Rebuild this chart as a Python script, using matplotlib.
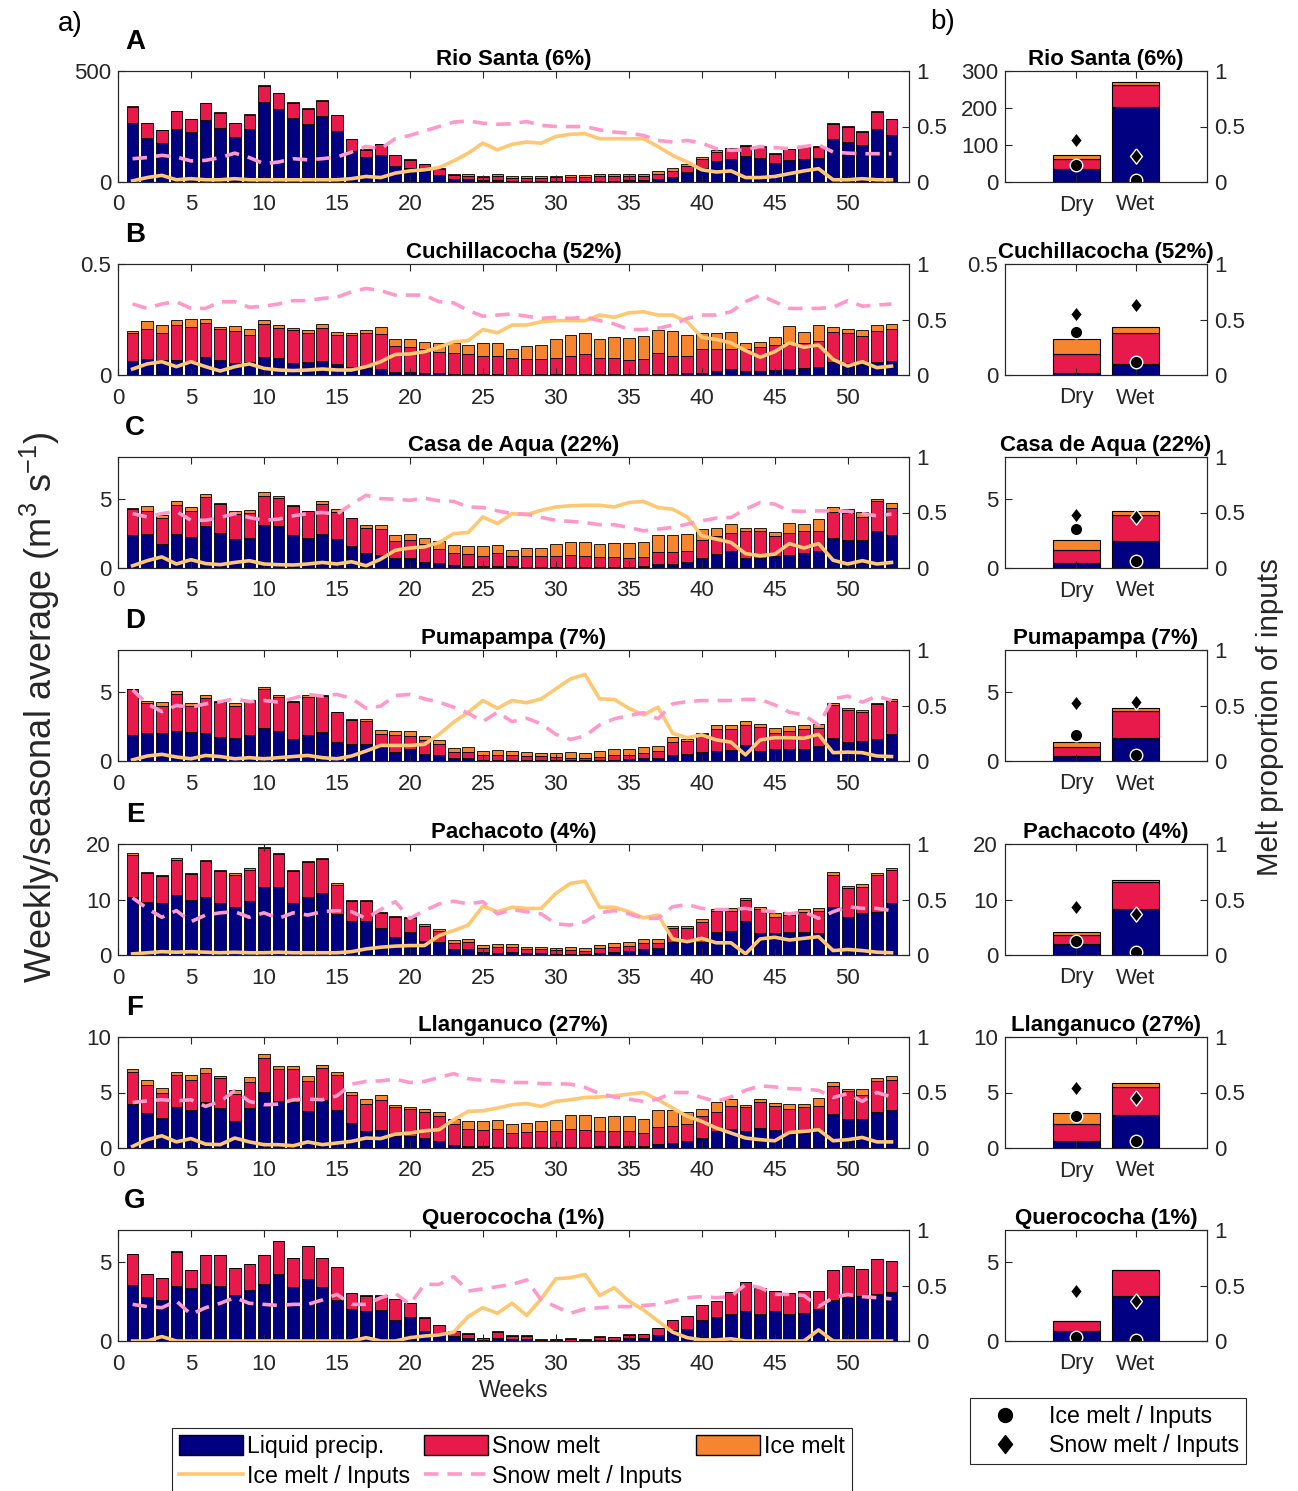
import numpy as np
import matplotlib
matplotlib.use("Agg")
import matplotlib.pyplot as plt
from matplotlib.patches import Patch
from matplotlib.lines import Line2D
from matplotlib.ticker import FuncFormatter

plt.rcParams['font.family'] = ['Liberation Sans', 'DejaVu Sans']
plt.rcParams['mathtext.fontset'] = 'custom'
plt.rcParams['mathtext.rm'] = 'Liberation Sans'
plt.rcParams['mathtext.it'] = 'Liberation Sans:italic'

# ==========================================================
# DATA : weekly inputs (m3/s) and melt fractions
# ==========================================================

weeks = np.arange(1, 54)

names = ["Rio Santa (6%)", "Cuchillacocha (52%)", "Casa de Aqua (22%)",
         "Pumapampa (7%)", "Pachacoto (4%)", "Llanganuco (27%)",
         "Querococha (1%)"]
letters = ["A", "B", "C", "D", "E", "F", "G"]

# Rio Santa
rs_liq = [265, 200, 176, 240, 227, 281, 243, 203, 239, 360, 330, 288, 263, 299, 231, 138, 114, 122, 70, 63,
          51, 30, 15, 12, 8, 10, 6, 5, 5, 5, 5, 5, 6, 6, 7, 8, 12, 24, 45, 65,
          95, 105, 118, 110, 85, 98, 102, 110, 195, 180, 165, 238, 212]
rs_snow = [75, 65, 58, 78, 55, 73, 70, 62, 64, 73, 70, 70, 68, 67, 69, 54, 31, 47, 50, 38,
           30, 30, 18, 16, 14, 18, 14, 14, 15, 16, 18, 17, 19, 20, 21, 21, 26, 27, 27, 38,
           42, 46, 45, 47, 43, 50, 54, 49, 68, 68, 62, 78, 70]
rs_ice = [3, 3, 2, 2, 2, 2, 2, 2, 2, 2, 2, 2, 2, 2, 2, 2, 2, 2, 2, 2,
          2, 3, 5, 6, 6, 7, 6, 6, 6, 7, 8, 9, 9, 9, 9, 9, 10, 10, 9, 8,
          5, 4, 4, 3, 2, 2, 2, 2, 2, 2, 2, 2, 2]
rs_icefrac = [0.01, 0.04, 0.06, 0.02, 0.03, 0.02, 0.02, 0.03, 0.02, 0.02, 0.02, 0.02, 0.02, 0.02, 0.02, 0.03, 0.05, 0.04, 0.08, 0.10,
              0.11, 0.13, 0.19, 0.26, 0.35, 0.29, 0.34, 0.36, 0.35, 0.41, 0.43, 0.435, 0.39, 0.39, 0.39, 0.39, 0.32, 0.24, 0.18, 0.11,
              0.09, 0.10, 0.04, 0.04, 0.05, 0.075, 0.10, 0.12, 0.02, 0.02, 0.03, 0.02, 0.02]
rs_snowfrac = [0.21, 0.22, 0.24, 0.225, 0.19, 0.195, 0.22, 0.26, 0.22, 0.165, 0.18, 0.21, 0.20, 0.21, 0.225, 0.27, 0.32, 0.30, 0.39, 0.42,
               0.46, 0.50, 0.54, 0.55, 0.53, 0.52, 0.525, 0.545, 0.51, 0.50, 0.50, 0.50, 0.47, 0.45, 0.44, 0.42, 0.375, 0.36, 0.375, 0.35,
               0.30, 0.285, 0.29, 0.32, 0.31, 0.30, 0.32, 0.335, 0.27, 0.26, 0.255, 0.255, 0.255]

# Cuchillacocha
cu_liq = [.063, .07, .066, .066, .063, .082, .066, .055, .06, .081, .075, .055, .06, .063, .051, .037, .03, .027, .015, .015,
          .009, .007, .005, .003, .003, .003, .002, .002, .003, .003, .003, .003, .003, .003, .003, .004, .005, .006, .007, .01,
          .018, .025, .02, .02, .022, .025, .03, .035, .06, .055, .05, .06, .065]
cu_snow = [.127, .136, .125, .158, .152, .154, .14, .142, .119, .15, .137, .149, .131, .149, .131, .142, .157, .158, .115, .112,
           .11, .097, .092, .09, .081, .081, .073, .07, .069, .075, .084, .091, .072, .075, .064, .068, .094, .079, .08, .105,
           .101, .094, .096, .107, .112, .121, .112, .117, .134, .136, .126, .138, .141]
cu_ice = [.007, .036, .033, .022, .036, .018, .009, .024, .027, .018, .012, .008, .013, .016, .012, .011, .014, .031, .031, .034,
          .03, .041, .045, .041, .058, .062, .041, .059, .065, .082, .095, .093, .085, .091, .1, .104, .102, .114, .092, .072,
          .071, .075, .03, .022, .038, .075, .052, .075, .022, .015, .025, .026, .025]
cu_icefrac = [.054, .10, .12, .075, .12, .075, .036, .075, .10, .06, .045, .04, .045, .054, .045, .045, .075, .12, .185, .19,
              .21, .25, .30, .31, .41, .38, .45, .45, .48, .49, .49, .49, .54, .52, .56, .57, .54, .54, .48, .34,
              .32, .29, .22, .16, .21, .29, .25, .27, .14, .08, .12, .066, .08]
cu_snowfrac = [.64, .60, .64, .66, .60, .60, .66, .66, .61, .62, .64, .67, .67, .69, .70, .75, .78, .76, .72, .72,
               .72, .66, .65, .58, .53, .54, .55, .53, .51, .52, .51, .52, .49, .46, .41, .41, .42, .45, .51, .54,
               .54, .57, .66, .72, .66, .60, .60, .60, .61, .67, .62, .63, .64]

# Casa de Aqua
ca_liq = [2.38, 2.43, 1.76, 2.43, 2.24, 3.02, 2.52, 2.07, 2.19, 3.07, 3.0, 2.38, 2.14, 2.48, 2.12, 1.6, 1.07, 0.93, 0.69, 0.69,
          0.45, 0.33, 0.19, 0.17, 0.14, 0.14, 0.12, 0.1, 0.1, 0.1, 0.1, 0.1, 0.1, 0.1, 0.1, 0.12, 0.3, 0.3, 0.45, 0.75,
          1.0, 1.2, 0.7, 0.75, 0.85, 0.95, 1.1, 1.2, 2.15, 2.05, 2.05, 2.7, 2.35]
ca_snow = [1.88, 1.67, 1.81, 2.14, 1.86, 2.08, 2.1, 1.83, 1.79, 2.14, 2.05, 2.07, 1.96, 2.14, 1.93, 1.97, 1.83, 1.86, 1.26, 1.33,
           1.31, 1.03, 0.86, 0.83, 0.74, 0.91, 0.78, 0.75, 0.75, 0.8, 0.82, 0.8, 0.7, 0.7, 0.65, 0.7, 0.85, 0.85, 0.75, 1.25,
           1.3, 1.3, 1.95, 1.9, 1.45, 1.6, 1.6, 1.5, 1.9, 1.95, 1.65, 2.15, 2.0]
ca_ice = [0.05, 0.35, 0.24, 0.29, 0.28, 0.23, 0.08, 0.24, 0.23, 0.24, 0.16, 0.07, 0.04, 0.24, 0.21, 0.05, 0.17, 0.31, 0.41, 0.41,
          0.43, 0.59, 0.59, 0.55, 0.67, 0.59, 0.43, 0.6, 0.6, 0.8, 0.98, 1.0, 0.95, 1.02, 1.05, 1.05, 1.25, 1.25, 1.25, 0.78,
          0.6, 0.7, 0.25, 0.25, 0.3, 0.7, 0.45, 0.8, 0.35, 0.25, 0.35, 0.15, 0.3]
ca_icefrac = [.02, .066, .10, .036, .075, .04, .03, .05, .066, .036, .03, .027, .036, .05, .036, .057, .02, .08, .16, .18,
              .19, .23, .31, .32, .46, .40, .49, .48, .52, .55, .56, .565, .565, .55, .59, .60, .545, .53, .46, .29,
              .26, .23, .13, .11, .125, .22, .18, .22, .07, .036, .066, .036, .05]
ca_snowfrac = [.49, .46, .49, .51, .43, .43, .455, .49, .455, .43, .44, .47, .49, .50, .485, .575, .655, .625, .62, .61,
               .63, .605, .60, .55, .545, .515, .49, .485, .455, .43, .42, .41, .39, .39, .365, .335, .35, .365, .395, .425,
               .45, .455, .53, .59, .575, .515, .51, .515, .515, .51, .49, .47, .485]

# Pumapampa
pu_liq = [1.86, 2.02, 2.0, 2.19, 2.07, 2.02, 1.74, 1.67, 1.86, 2.38, 2.19, 1.62, 1.86, 2.07, 1.38, 1.24, 1.24, 1.0, 0.64, 0.83,
          0.48, 0.43, 0.2, 0.2, 0.1, 0.1, 0.08, 0.08, 0.07, 0.07, 0.05, 0.05, 0.07, 0.1, 0.12, 0.2, 0.25, 0.45, 0.5, 0.65,
          0.75, 0.8, 1.15, 0.7, 0.85, 0.9, 0.85, 1.1, 1.65, 1.35, 1.45, 1.55, 1.95]
pu_snow = [3.31, 2.15, 1.98, 2.64, 1.93, 2.55, 2.5, 2.33, 2.43, 2.81, 2.45, 2.62, 2.74, 2.62, 2.12, 1.74, 1.62, 0.95, 1.26, 1.0,
           1.02, 0.76, 0.45, 0.45, 0.35, 0.35, 0.35, 0.3, 0.28, 0.25, 0.2, 0.15, 0.25, 0.3, 0.33, 0.4, 0.45, 0.95, 0.95, 1.3,
           1.55, 1.5, 1.45, 1.75, 1.2, 1.25, 1.45, 1.25, 2.4, 2.3, 2.05, 2.55, 2.4]
pu_ice = [0.03, 0.12, 0.28, 0.19, 0.21, 0.17, 0.07, 0.21, 0.09, 0.14, 0.12, 0.07, 0.14, 0.05, 0.05, 0.04, 0.16, 0.31, 0.29, 0.31,
          0.29, 0.31, 0.3, 0.35, 0.25, 0.35, 0.27, 0.27, 0.25, 0.28, 0.4, 0.4, 0.4, 0.45, 0.45, 0.4, 0.35, 0.3, 0.15, 0.1,
          0.3, 0.3, 0.25, 0.25, 0.3, 0.35, 0.3, 0.35, 0.1, 0.15, 0.2, 0.07, 0.15]
pu_icefrac = [.01, .045, .06, .036, .02, .05, .04, .02, .03, .02, .03, .04, .05, .03, .02, .045, .09, .14, .14, .14,
              .15, .24, .35, .44, .545, .475, .545, .525, .56, .65, .74, .78, .56, .555, .475, .415, .485, .25, .21, .235,
              .19, .17, .055, .19, .21, .21, .205, .24, .075, .08, .075, .045, .04]
pu_snowfrac = [.64, .515, .445, .50, .485, .515, .535, .56, .535, .545, .53, .565, .60, .585, .60, .565, .475, .495, .59, .60,
               .56, .53, .485, .43, .355, .44, .355, .385, .335, .24, .195, .225, .325, .38, .41, .435, .38, .515, .535, .545,
               .545, .545, .555, .555, .505, .44, .415, .325, .56, .585, .53, .585, .545]

# Pachacoto
pa_liq = [10.5, 9.6, 9.3, 10.8, 10.0, 10.5, 9.3, 8.7, 9.8, 12.3, 12.3, 9.3, 10.5, 11.2, 7.3, 6.2, 6.2, 4.85, 3.3, 4.2,
          2.6, 2.3, 1.0, 1.0, 0.5, 0.45, 0.5, 0.3, 0.3, 0.25, 0.25, 0.2, 0.4, 0.5, 0.7, 1.0, 1.2, 2.3, 2.3, 2.4,
          4.2, 4.3, 6.2, 4.0, 4.0, 4.1, 4.2, 4.0, 8.7, 6.8, 7.6, 7.8, 9.4]
pa_snow = [7.6, 5.2, 4.9, 6.4, 4.65, 6.4, 5.8, 5.8, 5.6, 6.9, 5.9, 5.9, 6.3, 6.1, 5.4, 3.6, 3.6, 2.65, 3.5, 2.45,
           2.7, 2.1, 1.2, 1.3, 0.7, 1.0, 1.0, 0.7, 0.7, 0.6, 0.7, 0.5, 0.8, 1.0, 0.9, 1.2, 0.9, 2.5, 2.5, 3.5,
           3.7, 3.7, 3.7, 4.2, 2.9, 3.1, 3.5, 3.9, 5.8, 5.3, 4.7, 6.7, 5.9]
pa_ice = [0.2, 0.2, 0.2, 0.2, 0.2, 0.2, 0.2, 0.2, 0.2, 0.2, 0.2, 0.2, 0.2, 0.2, 0.2, 0.2, 0.2, 0.25, 0.2, 0.2,
          0.3, 0.3, 0.5, 0.6, 0.6, 0.6, 0.55, 0.4, 0.4, 0.45, 0.55, 0.6, 0.6, 0.7, 0.7, 0.6, 0.8, 0.5, 0.5, 0.5,
          0.4, 0.5, 0.3, 0.5, 0.6, 0.6, 0.6, 0.6, 0.4, 0.4, 0.5, 0.3, 0.3]
pa_icefrac = [.01, .02, .03, .025, .03, .025, .02, .025, .02, .02, .025, .02, .02, .02, .02, .03, .055, .07, .08, .085,
              .085, .175, .22, .27, .44, .39, .43, .42, .42, .555, .645, .665, .43, .43, .39, .335, .36, .145, .12, .15,
              .11, .11, .01, .145, .16, .135, .15, .165, .04, .05, .04, .025, .02]
pa_snowfrac = [.515, .42, .34, .40, .30, .36, .38, .39, .34, .38, .33, .38, .36, .39, .40, .39, .33, .41, .48, .33,
               .40, .46, .485, .46, .48, .37, .41, .39, .37, .28, .27, .30, .38, .40, .37, .33, .33, .435, .455, .42,
               .41, .41, .42, .40, .39, .37, .39, .33, .39, .435, .42, .42, .40]

# Llanganuco
ll_liq = [3.95, 3.13, 2.69, 3.73, 3.43, 4.18, 3.58, 2.45, 3.64, 5.01, 4.24, 4.12, 3.34, 4.33, 3.43, 2.24, 1.55, 1.64, 1.1, 1.04,
          0.9, 0.6, 0.3, 0.15, 0.15, 0.1, 0.08, 0.08, 0.08, 0.1, 0.1, 0.1, 0.15, 0.15, 0.2, 0.2, 0.4, 0.45, 0.6, 0.9,
          1.55, 1.7, 1.5, 1.8, 1.6, 1.3, 1.35, 1.5, 3.1, 2.6, 2.65, 3.2, 3.4]
ll_snow = [2.92, 2.54, 2.24, 2.84, 2.69, 2.6, 2.69, 2.39, 2.33, 3.11, 2.86, 2.98, 2.69, 2.89, 3.14, 2.54, 2.39, 2.69, 2.63, 2.48,
           2.38, 2.24, 1.9, 1.6, 1.5, 1.6, 1.3, 1.4, 1.45, 1.4, 1.6, 1.5, 1.35, 1.35, 1.3, 1.15, 1.5, 1.55, 1.6, 2.0,
           1.7, 2.05, 2.15, 2.3, 2.2, 2.25, 2.3, 2.3, 2.5, 2.5, 2.1, 2.85, 2.75]
ll_ice = [0.23, 0.45, 0.5, 0.3, 0.45, 0.44, 0.24, 0.35, 0.45, 0.33, 0.27, 0.27, 0.45, 0.3, 0.3, 0.29, 0.45, 0.45, 0.15, 0.21,
          0.21, 0.38, 0.4, 0.7, 0.8, 0.8, 0.8, 0.8, 0.9, 1.05, 1.3, 1.35, 1.3, 1.35, 1.35, 1.3, 1.5, 1.4, 1.05, 0.6,
          0.85, 0.65, 0.2, 0.3, 0.25, 0.45, 0.35, 0.7, 0.35, 0.25, 0.55, 0.25, 0.35]
ll_icefrac = [.015, .075, .11, .055, .085, .035, .03, .09, .055, .03, .03, .02, .055, .03, .045, .06, .09, .085, .125, .135,
              .155, .165, .255, .33, .335, .36, .39, .40, .375, .42, .435, .455, .46, .47, .485, .50, .435, .36, .285, .24,
              .18, .135, .09, .075, .065, .14, .15, .165, .065, .075, .095, .055, .055]
ll_snowfrac = [.41, .425, .435, .425, .435, .375, .42, .515, .42, .39, .395, .435, .44, .435, .47, .575, .60, .605, .62, .59,
               .60, .635, .67, .625, .61, .605, .59, .59, .58, .58, .575, .545, .49, .46, .44, .42, .44, .50, .50, .455,
               .42, .46, .52, .56, .55, .535, .53, .52, .455, .49, .42, .50, .46]

# Querococha
qu_liq = [3.56, 2.75, 2.6, 3.45, 3.35, 3.62, 3.5, 2.88, 3.22, 3.6, 4.24, 3.41, 3.94, 3.41, 2.6, 2.03, 1.91, 1.97, 1.33, 1.5,
          0.66, 0.49, 0.3, 0.2, 0.08, 0.2, 0.1, 0.1, 0.02, 0.02, 0.03, 0.02, 0.08, 0.05, 0.2, 0.2, 0.35, 0.7, 0.75, 1.3,
          1.5, 1.7, 1.9, 1.7, 1.9, 1.7, 1.75, 2.0, 2.6, 2.75, 2.85, 2.95, 3.1]
qu_snow = [1.91, 1.49, 1.38, 2.19, 1.1, 1.78, 1.9, 1.74, 1.61, 1.8, 2.07, 1.84, 2.06, 1.84, 2.06, 1.0, 0.95, 0.89, 1.32, 0.89,
           0.82, 0.53, 0.3, 0.25, 0.1, 0.35, 0.22, 0.22, 0.03, 0.05, 0.08, 0.05, 0.2, 0.18, 0.2, 0.22, 0.45, 0.6, 0.85, 0.95,
           1.0, 1.4, 1.85, 1.65, 1.25, 1.3, 1.4, 1.15, 1.9, 1.95, 1.7, 2.25, 1.95]
qu_ice = [0.01, 0.01, 0.01, 0.01, 0.01, 0.01, 0.01, 0.01, 0.01, 0.01, 0.01, 0.01, 0.01, 0.01, 0.01, 0.01, 0.01, 0.01, 0.01, 0.01,
          0.01, 0.01, 0.04, 0.03, 0.02, 0.05, 0.04, 0.04, 0.05, 0.05, 0.06, 0.05, 0.05, 0.05, 0.05, 0.05, 0.03, 0.02, 0.0, 0.0,
          0.0, 0.0, 0.0, 0.0, 0.0, 0.0, 0.0, 0.0, 0.0, 0.0, 0.0, 0.0, 0.0]
qu_icefrac = [0, 0, .04, 0, 0, 0, 0, 0, 0, 0, 0, 0, 0, 0, 0, 0, .03, 0, 0, .03,
              .045, .055, .08, .22, .30, .25, .34, .23, .38, .56, .57, .60, .41, .48, .36, .28, .18, .08, .03, .01,
              .01, .02, 0, 0, 0, 0, 0, .10, 0, 0, 0, 0, 0]
qu_snowfrac = [.33, .31, .30, .36, .24, .30, .34, .39, .34, .33, .32, .33, .33, .37, .42, .33, .33, .39, .43, .33,
               .51, .51, .58, .45, .47, .49, .51, .55, .37, .31, .25, .29, .30, .31, .31, .32, .33, .36, .39, .40,
               .39, .40, .51, .48, .42, .42, .41, .31, .39, .42, .40, .39, .38]

weekly = [
    (rs_liq, rs_snow, rs_ice, rs_icefrac, rs_snowfrac),
    (cu_liq, cu_snow, cu_ice, cu_icefrac, cu_snowfrac),
    (ca_liq, ca_snow, ca_ice, ca_icefrac, ca_snowfrac),
    (pu_liq, pu_snow, pu_ice, pu_icefrac, pu_snowfrac),
    (pa_liq, pa_snow, pa_ice, pa_icefrac, pa_snowfrac),
    (ll_liq, ll_snow, ll_ice, ll_icefrac, ll_snowfrac),
    (qu_liq, qu_snow, qu_ice, qu_icefrac, qu_snowfrac),
]

# seasonal averages (Dry / Wet), one value per catchment
seasons = ["Dry", "Wet"]
dry_liq = [35, 0.007, 0.33, 0.36, 2.0, 0.6, 0.61]
dry_snow = [26, 0.087, 0.98, 0.65, 1.65, 1.56, 0.62]
dry_ice = [11, 0.069, 0.74, 0.37, 0.55, 0.96, 0.01]
wet_liq = [202, 0.051, 1.97, 1.67, 8.3, 2.94, 2.84]
wet_snow = [60, 0.137, 1.86, 1.95, 4.85, 2.56, 1.61]
wet_ice = [7, 0.026, 0.27, 0.22, 0.35, 0.37, 0.0]
dry_icefrac = [0.15, 0.39, 0.35, 0.23, 0.13, 0.29, 0.037]
dry_snowfrac = [0.38, 0.55, 0.476, 0.52, 0.43, 0.537, 0.45]
wet_icefrac = [0.02, 0.12, 0.06, 0.055, 0.03, 0.06, 0.005]
wet_snowfrac = [0.23, 0.63, 0.46, 0.536, 0.365, 0.45, 0.36]

# axis limits / ticks
ytop_weekly = [500, 0.5, 8, 8, 20, 10, 7]
yticks_weekly = [[0, 500], [0, 0.5], [0, 5], [0, 5], [0, 10, 20], [0, 5, 10], [0, 5]]
ytop_season = [300, 0.5, 8, 8, 20, 10, 7]
yticks_season = [[0, 100, 200, 300], [0, 0.5], [0, 5], [0, 5], [0, 10, 20], [0, 5, 10], [0, 5]]

# ==========================================================
# STYLE
# ==========================================================

c_liq = "#000080"
c_snow = "#E8194B"
c_ice = "#F5852F"
c_iceline = "#FEC772"
c_snowline = "#FF99C9"
c_axis = "#262626"
fmt = FuncFormatter(lambda v, p: f"{v:g}")
tick_fs = 16
leg_fs = 16.7

# MATLAB-like diamond (taller than wide)
diamond = [(0, 1), (0.78, 0), (0, -1), (-0.78, 0), (0, 1)]

W, H = 1298, 1491
fig = plt.figure(figsize=(W / 100, H / 100), dpi=100)

row_top = [71, 264, 457, 650, 844, 1037, 1230]
ax_h = 111


def style_axes(a):
    for s in a.spines.values():
        s.set_color(c_axis)
        s.set_linewidth(0.8)
    a.tick_params(direction="in", length=5, width=0.8, labelsize=tick_fs,
                  colors=c_axis, labelcolor=c_axis, pad=5)


for i in range(7):
    liq, snow, ice, icefrac, snowfrac = [np.array(v) for v in weekly[i]]
    top = row_top[i]
    bottom = 1 - (top + ax_h) / H

    # ---------------- weekly panel ----------------
    ax = fig.add_axes([118 / W, bottom, 791 / W, ax_h / H])
    ax.bar(weeks, liq, 0.8, color=c_liq, edgecolor="black", linewidth=0.6)
    ax.bar(weeks, snow, 0.8, bottom=liq, color=c_snow, edgecolor="black", linewidth=0.6)
    ax.bar(weeks, ice, 0.8, bottom=liq + snow, color=c_ice, edgecolor="black", linewidth=0.6)
    ax.set_xlim(0, 54.2)
    ax.set_ylim(0, ytop_weekly[i])
    ax.set_yticks(yticks_weekly[i])
    ax.yaxis.set_major_formatter(fmt)
    ax.set_xticks(range(0, 51, 5))
    style_axes(ax)
    ax.tick_params(axis="x", top=True, pad=9)
    ax.set_title(names[i], fontsize=16, fontweight="bold", pad=4)

    ax2 = ax.twinx()
    ax2.plot(weeks, icefrac, color=c_iceline, linewidth=2.6)
    ax2.plot(weeks, snowfrac, color=c_snowline, linewidth=2.6, linestyle="--", dashes=(4, 2.5))
    ax2.set_ylim(0, 1)
    ax2.set_yticks([0, 0.5, 1])
    ax2.yaxis.set_major_formatter(fmt)
    style_axes(ax2)

    fig.text(135 / W, 1 - (top - 29) / H, letters[i], fontsize=20,
             fontweight="bold", ha="center", va="center")

    if i == 6:
        ax.set_xlabel("Weeks", fontsize=16.5, color=c_axis, labelpad=3)

    # ---------------- seasonal panel ----------------
    bx = fig.add_axes([1005 / W, bottom, 202 / W, ax_h / H])
    xs = [1, 2]
    s_liq = np.array([dry_liq[i], wet_liq[i]])
    s_snow = np.array([dry_snow[i], wet_snow[i]])
    s_ice = np.array([dry_ice[i], wet_ice[i]])
    bx.bar(xs, s_liq, 0.8, color=c_liq, edgecolor="black", linewidth=0.8)
    bx.bar(xs, s_snow, 0.8, bottom=s_liq, color=c_snow, edgecolor="black", linewidth=0.8)
    bx.bar(xs, s_ice, 0.8, bottom=s_liq + s_snow, color=c_ice, edgecolor="black", linewidth=0.8)
    bx.set_xlim(-0.21, 3.21)
    bx.set_ylim(0, ytop_season[i])
    bx.set_yticks(yticks_season[i])
    bx.yaxis.set_major_formatter(fmt)
    bx.set_xticks(xs)
    bx.set_xticklabels(seasons)
    style_axes(bx)
    bx.tick_params(axis="x", top=True, pad=9)
    bx.set_title(names[i], fontsize=16, fontweight="bold", pad=4)

    bx2 = bx.twinx()
    bx2.plot(xs, [dry_icefrac[i], wet_icefrac[i]], linestyle="none", marker="o",
             markersize=9, markerfacecolor="black", markeredgecolor="white", markeredgewidth=1)
    bx2.plot(xs, [dry_snowfrac[i], wet_snowfrac[i]], linestyle="none", marker=diamond,
             markersize=11, markerfacecolor="black", markeredgecolor="white", markeredgewidth=1)
    bx2.set_ylim(0, 1)
    bx2.set_yticks([0, 0.5, 1])
    bx2.yaxis.set_major_formatter(fmt)
    style_axes(bx2)

# ==========================================================
# LABELS AND LEGENDS
# ==========================================================

fig.text(70 / W, 1 - 24 / H, "a)", fontsize=20, ha="center", va="center")
fig.text(943 / W, 1 - 22 / H, "b)", fontsize=20, ha="center", va="center")
fig.text(40 / W, 1 - 707 / H, "Weekly/seasonal average (m$^{3}$ s$^{-1}$)",
         fontsize=26, rotation=90, ha="center", va="center", color=c_axis)
fig.text(1270 / W, 1 - 717 / H, "Melt proportion of inputs",
         fontsize=21.3, rotation=90, ha="center", va="center", color=c_axis)

handles = [
    Patch(facecolor=c_liq, edgecolor="black", label="Liquid precip."),
    Line2D([], [], color=c_iceline, linewidth=2.6, label="Ice melt / Inputs"),
    Patch(facecolor=c_snow, edgecolor="black", label="Snow melt"),
    Line2D([], [], color=c_snowline, linewidth=2.6, linestyle="--", dashes=(4, 2.5),
           label="Snow melt / Inputs"),
    Patch(facecolor=c_ice, edgecolor="black", label="Ice melt"),
]
leg = fig.legend(handles=handles, ncol=3, loc="upper left", mode="expand",
                 bbox_to_anchor=(172 / W, 0, 680 / W, 1 - 1428 / H),
                 fontsize=leg_fs, handlelength=2.75, handleheight=0.95,
                 handletextpad=0.2, borderpad=0.3, labelspacing=0.3,
                 borderaxespad=0, fancybox=False, framealpha=1)
leg.get_frame().set_edgecolor(c_axis)
leg.get_frame().set_linewidth(0.8)

mhandles = [
    Line2D([], [], linestyle="none", marker="o", markersize=10, color="black",
           label="Ice melt / Inputs"),
    Line2D([], [], linestyle="none", marker=diamond, markersize=13, color="black",
           label="Snow melt / Inputs"),
]
leg2 = fig.legend(handles=mhandles, loc="upper left",
                  bbox_to_anchor=(970 / W, 1 - 1398 / H), fontsize=leg_fs,
                  handlelength=2.4, handletextpad=0.7, borderpad=0.3,
                  labelspacing=0.25, borderaxespad=0, fancybox=False, framealpha=1)
leg2.get_frame().set_edgecolor(c_axis)
leg2.get_frame().set_linewidth(0.8)

plt.savefig("out.png", dpi=100)
